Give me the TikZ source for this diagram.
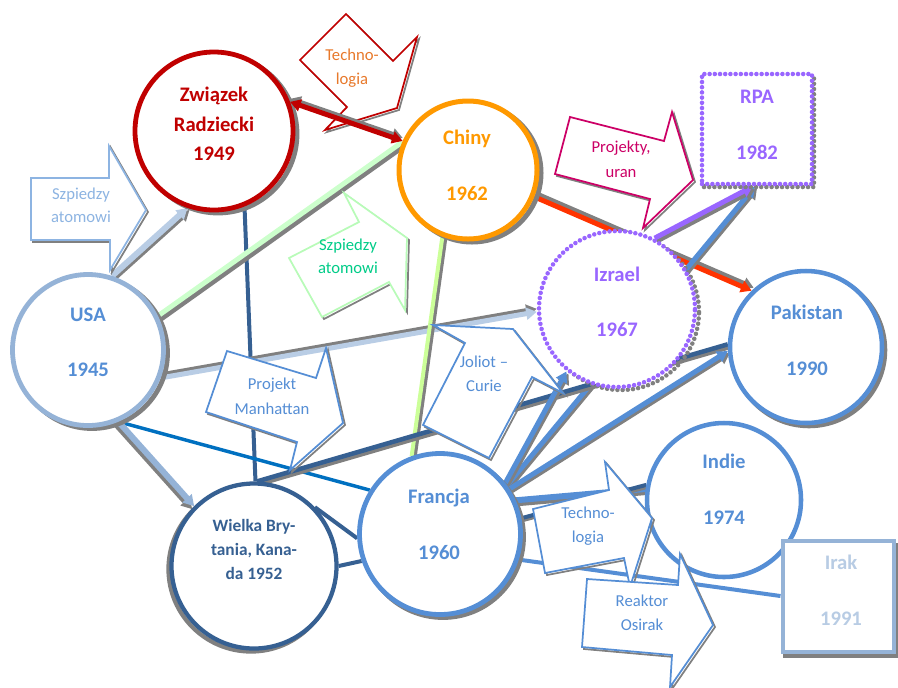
\documentclass[tikz,border=0pt]{standalone}
\usepackage{fontspec}
\setmainfont{Carlito}
\usetikzlibrary{arrows.meta}
\pgfdeclarelayer{bg}
\pgfdeclarelayer{fg}
\pgfsetlayers{bg,main,fg}
\definecolor{shgray}{HTML}{808080}
\definecolor{cRed}{HTML}{C00000}
\definecolor{cOrange}{HTML}{FF9900}
\definecolor{cTechTxt}{HTML}{E8792B}
\definecolor{cUsaLine}{HTML}{95B3D7}
\definecolor{cLtBlue}{HTML}{B9CDE5}
\definecolor{cBlue}{HTML}{558ED5}
\definecolor{cMid}{HTML}{0070C0}
\definecolor{cDk}{HTML}{366092}
\definecolor{cPurple}{HTML}{9966FF}
\definecolor{cLtGreen}{HTML}{CCFFCC}
\definecolor{cLime}{HTML}{CCFF99}
\definecolor{cGreenOut}{HTML}{B8FBB8}
\definecolor{cGreenTxt}{HTML}{00CC88}
\definecolor{cSpy}{HTML}{8DB4E2}
\definecolor{cMag}{HTML}{CC0066}
\definecolor{cOrRed}{HTML}{FF3300}
\definecolor{cIrakTxt}{HTML}{B8CCE4}
\newcommand\ringnode[7]{%
  \node[#5, draw=shgray, fill=none, minimum size={#4*0.75pt}] (#1-sh) at ({#2+#6},{#3+#7}) {};
  \node[#5, fill=white, minimum size={#4*0.75pt}] (#1) at (#2,#3) {};}
\newcommand\link[3][2,2]{%
  \draw[#2,shgray,transform canvas={shift={(#1)}}] #3;
  \draw[#2] #3;}
\newcommand\callout[2]{%
  \draw[shgray, line width=1.3pt, shift={(2,2)}] #2 -- cycle;
  \draw[#1, fill=white, line width=1.3pt] #2 -- cycle;}
\begin{document}
\begin{tikzpicture}[x=0.75pt,y=-0.75pt,
  ring/.style={circle, inner sep=0pt, line width=3.6pt},
  dotring/.style={circle, inner sep=0pt, line width=3.4pt, dash pattern=on 0pt off 3.9pt, line cap=round},
  big/.style={inner sep=0pt, font=\fontsize{15.5}{18}\selectfont\bfseries, text height=10pt, text depth=0pt},
  mid/.style={inner sep=0pt, font=\fontsize{13}{16}\selectfont\bfseries, text height=8.4pt, text depth=0pt},
  small/.style={inner sep=0pt, font=\fontsize{12.5}{15}\selectfont, text height=8pt, text depth=0pt},
  tip/.style={-{Triangle[length=8pt,width=9pt]}},
  dtip/.style={{Triangle[length=8pt,width=9pt]}-{Triangle[length=8pt,width=9pt]}}]
\path[use as bounding box] (0,0) rectangle (898,687);
% ---- circles and boxes
\ringnode{zsrr}{214}{131}{158}{ring, draw=cRed}{4}{3}
\ringnode{chiny}{468}{170}{138}{ring, line width=3.75pt, draw=cOrange}{4}{3}
\ringnode{usa}{88}{350}{151}{ring, draw=cUsaLine}{4}{3}
\ringnode{izrael}{617}{309}{156}{dotring, draw=cPurple}{4}{3}
\ringnode{rpa}{757}{129}{110}{dotring, rectangle, draw=cPurple}{2}{3}
\ringnode{pakistan}{806}{347}{152}{ring, line width=3.4pt, draw=cBlue}{3}{3}
\node[ring, line width=3.4pt, draw=cBlue, fill=white, minimum size={154*0.75pt}] (indie) at (724,500) {};
\ringnode{francja}{440}{534}{161}{ring, draw=cBlue}{3}{3}
\ringnode{wb}{254}{566}{165}{ring, line width=3.2pt, draw=cDk}{-3}{3}
\ringnode{irak}{838}{596}{111}{ring, rectangle, line width=3pt, draw=cUsaLine}{2}{4}
% ---- connectors (behind the circles)
\begin{pgfonlayer}{bg}
\draw[cDk, line width=3pt] (zsrr.-68) -- (wb.89);
\draw[cMid, line width=2.6pt] (usa.-67) -- (francja.148);
\link[2,2]{cLtBlue, line width=4.5pt, tip}{(usa.72) -- (zsrr.251)}
\link[2.5,3.5]{cLtGreen, line width=3.75pt}{(usa.26) -- (chiny.157)}
\link[0,-3]{cLtBlue, line width=3.75pt, tip}{(usa.-21) -- (izrael.182)}
\link[-2,3]{cUsaLine, line width=4.5pt, tip}{(usa.-67) -- (wb.135)}
\link[3,1]{cLime, line width=3pt}{(chiny.-111) -- (francja.110)}
\link[2,-3]{cOrRed, line width=3.75pt, tip}{(chiny.-22) -- (pakistan.134)}
\link[2,2]{cBlue, line width=3.75pt, tip}{(francja.36) -- (rpa.-92)}
\link[2,3]{cPurple, line width=3.75pt, tip}{(izrael.62) -- (rpa.-94)}
\link[1,3]{cDk, line width=3.4pt}{(wb.88) -- (pakistan.178)}
\link[2,2]{cBlue, line width=3.75pt, tip}{(francja.38) -- (izrael.231)}
\link[2,2]{cBlue, line width=3.75pt, tip}{(francja.33) -- (pakistan.183)}
\link[1,3]{cBlue, line width=4.5pt}{(francja.24) -- (indie.172)}
\link[1,2]{cDk, line width=3pt}{(francja.11) -- (indie.169)}
\draw[cBlue, line width=3pt] (francja.-18) -- (irak.west);
\draw[cDk, line width=3pt] (wb.44) -- (francja.183);
\draw[cDk, line width=3pt] (wb.0) -- (francja.199);
\end{pgfonlayer}
% ---- callouts, red arrow and texts (in front)
\begin{pgfonlayer}{fg}
\callout{cRed}{(300,60) -- (346,14) -- (393,61) -- (417,37) -- (397,108) -- (325,130) -- (347,107)}
\callout{cSpy}{(31,178) -- (109,178) -- (109,146) -- (146,210) -- (110,270) -- (110,240) -- (31,240)}
\callout{cGreenOut}{(344,193) -- (407,238) -- (405,310) -- (389,282) -- (322,317) -- (289,258) -- (359,222)}
\callout{cMag}{(570,117) -- (664,141) -- (672,112) -- (693,180) -- (643,228) -- (650,199) -- (555,174)}
\callout{cBlue}{(227,351) -- (316,378) -- (326,348) -- (343,423) -- (290,470) -- (297,442) -- (206,412)}
\callout{cBlue}{(433,325) -- (513,329) -- (563,393) -- (532,377) -- (489,458) -- (423,425) -- (465,343)}
\callout{cBlue}{(533,509) -- (609,490) -- (605,462) -- (652,518) -- (630,587) -- (624,558) -- (545,573)}
\callout{cBlue}{(587,579) -- (678,585) -- (680,554) -- (713,625) -- (670,687) -- (672,655) -- (582,647)}
\link[0,-3]{cRed, line width=3.75pt, dtip}{(zsrr.21) -- (chiny.156)}
\node[big, text=cRed] (t-zsrr1) at (214,95) {Związek};
\node[big, text=cRed] (t-zsrr2) at (214,125) {Radziecki};
\node[big, text=cRed] (t-zsrr3) at (214,154) {1949};
\node[big, text=cOrange] (t-chiny1) at (467,138) {Chiny};
\node[big, text=cOrange] (t-chiny2) at (467,194) {1962};
\node[big, text=cBlue] (t-usa1) at (88,315) {USA};
\node[big, text=cBlue] (t-usa2) at (88,370) {1945};
\node[big, text=cPurple] (t-izr1) at (617,275) {Izrael};
\node[big, text=cPurple] (t-izr2) at (617,330) {1967};
\node[big, text=cPurple] (t-rpa1) at (757,97) {RPA};
\node[big, text=cPurple] (t-rpa2) at (757,153) {1982};
\node[big, text=cBlue] (t-pak1) at (807,313) {Pakistan};
\node[big, text=cBlue] (t-pak2) at (807,369) {1990};
\node[big, text=cBlue] (t-ind1) at (724,462) {Indie};
\node[big, text=cBlue] (t-ind2) at (724,518) {1974};
\node[big, text=cIrakTxt] (t-irak1) at (841,563) {Irak};
\node[big, text=cIrakTxt] (t-irak2) at (841,619) {1991};
\node[big, text=cBlue] (t-fr1) at (439,497) {Francja};
\node[big, text=cBlue] (t-fr2) at (439,553) {1960};
\node[mid, text=cDk] (t-wb1) at (254,526) {Wielka Bry-};
\node[mid, text=cDk] (t-wb2) at (254,550) {tania, Kana-};
\node[mid, text=cDk] (t-wb3) at (254,574) {da 1952};
\node[small, text=cTechTxt] (t-tech1) at (352,55) {Techno-};
\node[small, text=cTechTxt] (t-tech2) at (352,79) {logia};
\node[small, text=cSpy] (t-spy1) at (81,194) {Szpiedzy};
\node[small, text=cSpy] (t-spy2) at (81,217) {atomowi};
\node[small, text=cGreenTxt] (t-gspy1) at (348,245) {Szpiedzy};
\node[small, text=cGreenTxt] (t-gspy2) at (348,268) {atomowi};
\node[small, text=cMag] (t-proj1) at (621,147) {Projekty,};
\node[small, text=cMag] (t-proj2) at (621,172) {uran};
\node[small, text=cBlue] (t-man1) at (272,384) {Projekt};
\node[small, text=cBlue] (t-man2) at (272,409) {Manhattan};
\node[small, text=cBlue] (t-jol1) at (484,362) {Joliot –};
\node[small, text=cBlue] (t-jol2) at (484,386) {Curie};
\node[small, text=cBlue] (t-tl1) at (588,513) {Techno-};
\node[small, text=cBlue] (t-tl2) at (588,537) {logia};
\node[small, text=cBlue] (t-re1) at (642,601) {Reaktor};
\node[small, text=cBlue] (t-re2) at (642,625) {Osirak};
\end{pgfonlayer}
\end{tikzpicture}
\end{document}
